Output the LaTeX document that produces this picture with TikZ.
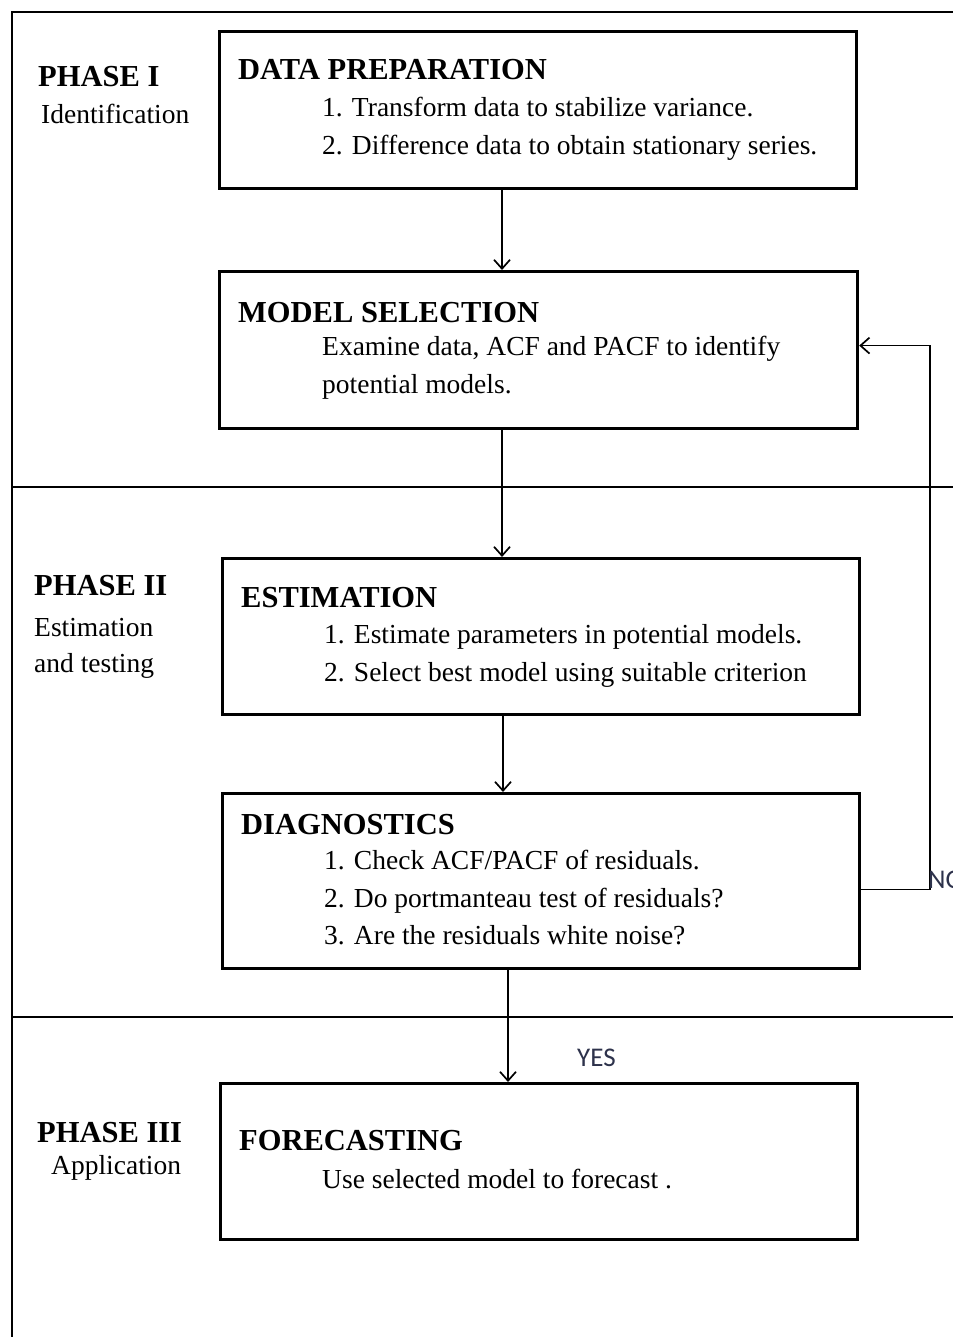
\documentclass[tikz,border=0pt]{standalone}
\usepackage{fontspec}
\setmainfont{Liberation Serif}
\newfontfamily\yesfont{Carlito}
\usetikzlibrary{arrows.meta}
\definecolor{lblc}{RGB}{45,50,75}
\tikzset{
  box/.style={draw=black, line width=3.2pt, rectangle, anchor=north west, inner sep=0pt},
  frameline/.style={draw=black, line width=2.2pt},
  arr/.style={draw=black, line width=1.7pt, -{Straight Barb[length=9pt,width=16pt,line width=1.7pt]}},
  head/.style={anchor=base west, inner sep=0pt, font=\fontsize{30.5}{35}\selectfont\bfseries},
  body/.style={anchor=base west, inner sep=0pt, font=\fontsize{27.5}{32}\selectfont},
  yn/.style={anchor=base west, inner sep=0pt, text=lblc, font=\yesfont\fontsize{27}{31}\selectfont}
}
\begin{document}
\begin{tikzpicture}[x=1pt,y=-1pt]
\useasboundingbox (0,0) rectangle (952,1337);
\fill[white] (0,0) rectangle (952,1337);
% outer frame and phase dividers
\draw[frameline] (12,12) rectangle (970,1360);
\coordinate (d1a) at (12,487); \coordinate (d1b) at (970,487);
\coordinate (d2a) at (12,1017); \coordinate (d2b) at (970,1017);
\draw[frameline] (d1a) -- (d1b);
\draw[frameline] (d2a) -- (d2b);
% boxes
\node[box, minimum width=637pt, minimum height=157pt] (dp) at (218,30) {};
\node[box, minimum width=638pt, minimum height=157pt] (ms) at (218,270) {};
\node[box, minimum width=637pt, minimum height=156pt] (est) at (221,557) {};
\node[box, minimum width=637pt, minimum height=175pt] (diag) at (221,792) {};
\node[box, minimum width=637pt, minimum height=156pt] (fc) at (219,1082) {};
% phase labels
\node[head] (p1) at (38,87) {PHASE I};
\node[body] (p1s) at (41,124) {Identification};
\node[head] (p2) at (34,595) {PHASE II};
\node[body] (p2s) at (34,636) {Estimation};
\node[body] (p2t) at (34,672) {and testing};
\node[head] (p3) at (37,1142) {PHASE III};
\node[body] (p3s) at (51,1174) {Application};
% box texts
\node[head] (dph) at (238,80) {DATA PREPARATION};
\node[body] (dp1) at (322,117) {1. Transform data to stabilize variance.};
\node[body] (dp2) at (322,155) {2. Difference data to obtain stationary series.};
\node[head] (msh) at (238,322) {MODEL SELECTION};
\node[body] (ms1) at (322,355) {Examine data, ACF and PACF to identify};
\node[body] (ms2) at (322,393) {potential models.};
\node[head] (esth) at (241,607) {ESTIMATION};
\node[body] (est1) at (324,643) {1. Estimate parameters in potential models.};
\node[body] (est2) at (324,681) {2. Select best model using suitable criterion};
\node[head] (dgh) at (241,834) {DIAGNOSTICS};
\node[body] (dg1) at (324,869) {1. Check ACF/PACF of residuals.};
\node[body] (dg2) at (324,907) {2. Do portmanteau test of residuals?};
\node[body] (dg3) at (324,944) {3. Are the residuals white noise?};
\node[head] (fch) at (239,1150) {FORECASTING};
\node[body] (fc1) at (322,1188) {Use selected model to forecast .};
% connectors
\draw[arr] ([xshift=284pt]dp.south west) -- ([xshift=284pt]ms.north west);
\draw[arr] ([xshift=284pt]ms.south west) -- ([xshift=281pt]est.north west);
\draw[arr] ([xshift=282pt]est.south west) -- ([xshift=282pt]diag.north west);
\draw[arr] ([xshift=287pt]diag.south west) -- ([xshift=289pt]fc.north west);
\draw[arr] ([yshift=-8.5pt]diag.east) -- ++(69,0) |- ([yshift=4.5pt]ms.east);
\node[yn] (yes) at (577,1066) {YES};
\node[yn] (no) at (928,888) {NO};
\end{tikzpicture}
\end{document}
